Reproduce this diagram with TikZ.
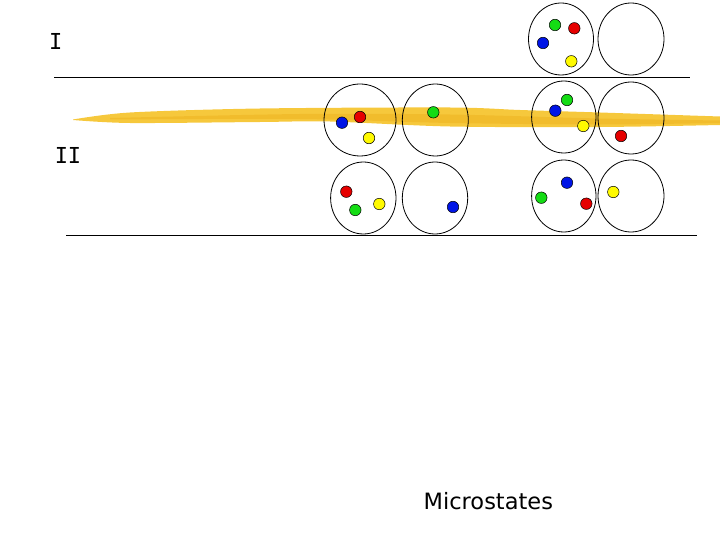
\documentclass[tikz,border=0pt]{standalone}
\usepackage{fontspec}
\setmainfont{DejaVu Sans}
\newfontfamily\labelfont{DejaVu Sans Mono}
\definecolor{brush}{RGB}{246,200,60}
\definecolor{brushdark}{RGB}{238,178,30}
\definecolor{dotred}{RGB}{230,0,0}
\definecolor{dotblue}{RGB}{0,20,230}
\definecolor{dotgreen}{RGB}{20,220,20}
\definecolor{dotyellow}{RGB}{255,250,0}
\begin{document}
\begin{tikzpicture}[x=1pt,y=-1pt,
  cell/.style={draw=black,line width=0.8pt},
  rule/.style={draw=black,line width=1pt},
  ball/.style={circle,draw=black,line width=0.5pt,inner sep=0pt,minimum size=11.5pt},
  rb/.style={ball,fill=dotred},
  bb/.style={ball,fill=dotblue},
  gb/.style={ball,fill=dotgreen},
  yb/.style={ball,fill=dotyellow},
  roman/.style={font=\labelfont\fontsize{22}{22}\selectfont,anchor=base,inner sep=0pt}]
\useasboundingbox (0,0) rectangle (720,540);
% highlighter stroke
\fill[brush] plot[smooth,tension=0.5] coordinates {(73,119.5) (130,112.5) (260,108.5) (450,107.5) (520,110) (600,112.5) (720,116.5)}
  -- plot[smooth,tension=0.5] coordinates {(720,125) (600,127) (450,126.5) (330,121.5) (260,122) (130,123) (73,120)} -- cycle;
\fill[brushdark,opacity=0.5] plot[smooth,tension=0.5] coordinates {(110,118) (300,114) (450,114.5) (600,118.5) (720,120.5)}
  -- plot[smooth,tension=0.5] coordinates {(720,123) (600,124.5) (450,123) (300,119) (110,119.5)} -- cycle;
% rules
\coordinate (r1a) at (54,77.5); \coordinate (r1b) at (690,77.5);
\coordinate (r2a) at (66,235.5); \coordinate (r2b) at (697,235.5);
\draw[rule] (r1a) -- (r1b);
\draw[rule] (r2a) -- (r2b);
% labels
\node[roman] (lI) at (55.8,49.3) {I};
\node[roman] (lII) at (68,164) {II};
\node[font=\fontsize{22.5}{22.5}\selectfont,anchor=base,inner sep=0pt] (title) at (488.3,509.3) {Microstates};
% cells, row I
\draw[cell] (561,39) ellipse [x radius=32.5,y radius=36];
\draw[cell] (631,39) ellipse [x radius=33,y radius=36];
\node[gb] (a1) at (555,25) {};
\node[rb] (a2) at (574.3,28.3) {};
\node[bb] (a3) at (543,43) {};
\node[yb] (a4) at (571.3,61.3) {};
% cells, row II upper
\draw[cell] (360,120) ellipse [x radius=36,y radius=36];
\draw[cell] (435.3,120) ellipse [x radius=33,y radius=36];
\draw[cell] (563.8,117) ellipse [x radius=32.2,y radius=36];
\draw[cell] (631,118) ellipse [x radius=33,y radius=36];
\node[bb] (b1) at (342,122.7) {};
\node[rb] (b2) at (360,117) {};
\node[yb] (b3) at (369,138) {};
\node[gb] (b4) at (433.3,112.3) {};
\node[gb] (c1) at (567,100) {};
\node[bb] (c2) at (555.3,110.7) {};
\node[yb] (c3) at (583.3,126) {};
\node[rb] (c4) at (621,136) {};
% cells, row II lower
\draw[cell] (363.3,198) ellipse [x radius=32.7,y radius=36];
\draw[cell] (435,198) ellipse [x radius=32.7,y radius=36];
\draw[cell] (563.8,196) ellipse [x radius=32.2,y radius=36];
\draw[cell] (631,196) ellipse [x radius=33,y radius=36];
\node[rb] (d1) at (346.3,191.7) {};
\node[gb] (d2) at (355.3,210) {};
\node[yb] (d3) at (379.3,204) {};
\node[bb] (d4) at (453,207) {};
\node[bb] (e1) at (567,182.7) {};
\node[gb] (e2) at (541.3,197.7) {};
\node[rb] (e3) at (586.3,203.7) {};
\node[yb] (e4) at (613.3,192) {};
\end{tikzpicture}
\end{document}
